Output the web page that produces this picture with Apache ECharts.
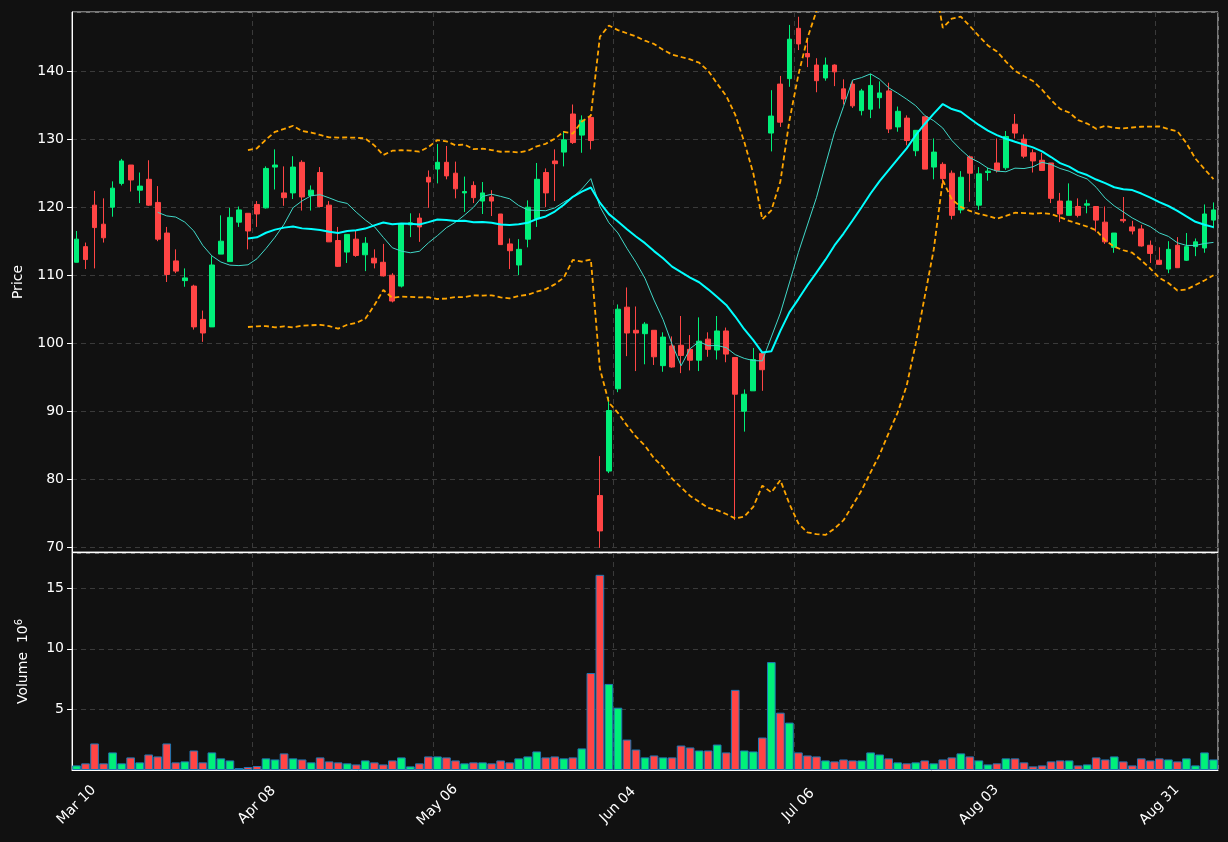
<!DOCTYPE html>
<html><head><meta charset="utf-8">
<script src="https://cdn.jsdelivr.net/npm/echarts@6/dist/echarts.min.js"></script>
<style>html,body{margin:0;padding:0;background:#111111;}#c{width:1228px;height:842px;}</style>
</head><body><div id="c"></div>
<script>
const tickLabels = ['Mar 10','Apr 08','May 06','Jun 04','Jul 06','Aug 03','Aug 31'];
const opens = [111.9,114.2,120.3,117.5,120.0,123.5,126.2,122.5,124.1,120.7,116.2,112.1,109.2,108.4,103.5,102.4,113.1,112.0,117.8,119.1,
120.4,119.9,125.9,122.1,122.1,126.6,121.7,125.1,120.3,115.1,113.4,115.3,113.0,112.5,111.9,110.0,108.4,117.4,118.4,124.4,
125.6,126.6,125.0,122.1,123.2,120.9,121.5,119.0,114.6,111.5,115.3,118.3,125.1,126.8,128.1,133.7,130.6,133.2,77.6,81.2,
93.3,105.3,101.9,101.4,101.9,96.7,99.6,99.7,99.1,97.5,100.6,99.0,101.8,97.9,90.0,93.0,98.5,130.9,138.1,138.9,
146.3,142.6,140.9,139.0,140.9,137.4,138.1,134.2,134.4,136.1,137.1,131.8,133.1,128.3,133.3,125.9,126.3,125.0,119.6,127.4,
120.3,125.1,126.5,125.8,132.2,130.0,128.0,126.9,126.5,120.9,118.8,120.1,120.3,120.1,117.8,114.1,118.2,117.1,116.8,114.4,
112.2,110.9,114.4,112.2,114.2,114.0,118.1];
const closes = [115.3,112.3,117.0,115.5,122.8,126.8,124.0,123.1,120.3,115.3,110.1,110.6,109.6,102.4,101.5,111.5,115.0,118.5,119.6,116.5,
119.0,125.7,126.2,121.4,125.9,121.5,122.5,120.1,114.9,111.3,116.0,112.9,114.7,111.8,109.9,106.2,117.6,117.7,117.1,123.7,
126.6,124.6,122.7,122.3,121.4,122.1,120.9,114.5,113.6,113.8,120.0,124.1,122.1,126.4,129.9,129.5,132.8,129.8,72.4,90.1,
105.0,101.5,101.5,102.8,98.0,100.9,96.5,98.2,97.5,100.3,99.1,101.8,98.4,92.5,92.5,97.6,96.1,133.4,132.5,144.7,
144.0,142.1,138.6,140.9,139.9,135.9,134.9,137.1,137.9,136.8,131.5,134.1,129.8,131.3,125.6,128.1,124.2,118.8,124.4,125.0,
124.9,125.3,125.4,130.4,130.9,127.5,126.8,125.4,121.3,119.0,120.9,118.8,120.5,118.1,114.9,116.2,118.0,116.5,114.3,113.2,
111.6,113.8,111.1,114.2,114.9,119.0,119.6];
const lows = [111.9,110.9,111.0,114.8,118.6,123.2,122.3,120.6,120.2,115.0,109.0,110.3,108.3,102.0,100.2,102.4,113.1,112.0,117.1,113.8,
117.1,119.8,122.6,120.2,121.2,119.5,119.5,120.0,114.9,111.2,111.8,112.7,110.6,111.0,109.8,106.0,108.2,115.6,114.9,119.9,
123.5,124.1,121.3,119.3,120.6,119.0,118.7,114.5,110.9,110.0,114.1,117.1,120.0,120.9,126.0,129.3,128.0,128.5,69.9,80.9,
92.8,98.1,95.9,96.9,96.8,95.8,96.4,95.6,96.0,95.9,98.0,97.6,97.2,74.0,87.0,93.0,93.0,128.2,131.8,137.7,
143.1,140.6,136.9,138.6,137.8,135.1,134.6,133.5,133.1,134.5,130.9,131.1,129.1,127.5,125.6,124.1,122.8,118.2,119.1,120.8,
119.6,123.9,125.1,125.5,130.1,127.2,125.1,125.4,120.6,117.8,118.8,118.5,119.1,116.4,114.6,113.3,117.7,116.0,114.2,111.8,
111.5,110.3,111.1,112.1,112.8,113.3,116.9];
const highs = [116.5,114.8,122.4,121.3,123.8,127.1,126.2,125.1,126.9,123.1,117.1,113.8,111.0,108.6,104.8,112.8,118.8,119.9,120.1,119.1,
120.9,126.0,128.5,126.0,127.5,126.9,123.2,125.9,120.9,117.1,116.0,116.6,115.6,113.8,114.6,110.3,117.6,119.1,119.1,125.4,
129.3,129.0,126.7,124.5,123.8,123.7,122.5,119.0,115.4,115.3,121.0,126.5,125.7,128.5,131.2,135.1,133.5,133.5,83.4,92.1,
105.7,108.2,105.4,103.1,101.9,101.6,101.0,104.0,101.2,103.8,101.6,104.0,102.3,97.9,93.2,99.3,98.5,137.2,139.3,146.8,
148.0,144.6,141.9,142.0,141.0,138.8,138.6,137.4,139.6,138.5,138.3,134.8,133.5,131.3,133.3,130.1,126.6,125.4,125.3,127.6,
125.9,125.8,130.1,131.2,133.7,130.7,128.5,128.0,126.5,122.1,123.5,121.3,121.1,120.1,120.1,116.2,121.5,118.0,117.4,115.1,
114.1,115.0,115.6,116.2,115.4,120.4,120.7];
const volumes = [0.38,0.55,2.19,0.55,1.45,0.55,1.04,0.63,1.28,1.12,2.19,0.63,0.71,1.61,0.63,1.45,0.96,0.79,0.16,0.25,
0.33,0.96,0.87,1.37,0.96,0.87,0.63,1.04,0.71,0.63,0.55,0.46,0.79,0.63,0.46,0.79,1.04,0.30,0.55,1.12,
1.12,1.04,0.79,0.55,0.63,0.63,0.55,0.79,0.63,0.96,1.12,1.53,1.04,1.12,0.96,1.04,1.78,8.0,16.1,7.1,
5.14,2.51,1.69,1.04,1.2,1.04,1.04,2.02,1.86,1.61,1.61,2.10,1.45,6.61,1.61,1.53,2.68,8.9,4.73,3.91,
1.45,1.2,1.12,0.79,0.71,0.87,0.79,0.79,1.45,1.28,0.96,0.63,0.55,0.63,0.79,0.55,0.87,1.04,1.37,1.12,
0.79,0.46,0.55,0.96,0.96,0.63,0.30,0.38,0.71,0.79,0.79,0.38,0.46,1.04,0.87,1.12,0.71,0.38,0.96,0.79,
0.96,0.87,0.71,0.96,0.38,1.45,0.87];

const UP = '#00f07a', DOWN = '#ff4545';
const n = closes.length;
const cats = closes.map((_, i) => i % 20 === 0 ? tickLabels[i / 20] : String(i));
const candle = closes.map((c, i) => [opens[i], c, lows[i], highs[i]]);
function ma(p) { return closes.map((_, i) => { if (i < p - 1) return '-'; let s = 0; for (let k = i - p + 1; k <= i; k++) s += closes[k]; return +(s / p).toFixed(3); }); }
const ma10 = ma(10), ma20 = ma(20);
const upper = [], lower = [];
for (let i = 0; i < n; i++) {
  if (i < 19) { upper.push('-'); lower.push('-'); continue; }
  let m = ma20[i], v = 0;
  for (let k = i - 19; k <= i; k++) v += (closes[k] - m) ** 2;
  const sd = Math.sqrt(v / 20);
  upper.push(+(m + 2 * sd).toFixed(3)); lower.push(+(m - 2 * sd).toFixed(3));
}
const volData = volumes.map((v, i) => ({ value: v, itemStyle: { color: closes[i] >= opens[i] ? UP : DOWN } }));

const txt = { color: '#ffffff', fontSize: 14, fontFamily: 'DejaVu Sans' };
const split = { show: true, lineStyle: { color: '#3a3a3a', type: [5, 4], width: 1 } };
const xCommon = {
  type: 'category', data: cats, boundaryGap: true,
  axisLine: { lineStyle: { color: '#ffffff' } },
  axisTick: { interval: (i) => i % 20 === 0, alignWithLabel: true, length: 5, lineStyle: { color: '#fff' } },
  splitLine: { show: true, interval: (i) => i % 20 === 0, lineStyle: { color: '#3a3a3a', type: [5, 4] } }
};
const chart = echarts.init(document.getElementById('c'));
chart.setOption({
  backgroundColor: '#111111',
  animation: false,
  grid: [
    { left: 72, right: 10, top: 12, height: 540, show: true, borderColor: '#e0e0e0', borderWidth: 1, backgroundColor: 'transparent' },
    { left: 72, right: 10, top: 553, height: 217, show: true, borderColor: '#e0e0e0', borderWidth: 1, backgroundColor: 'transparent' }
  ],
  xAxis: [
    Object.assign({}, xCommon, { gridIndex: 0, axisLabel: { show: false }, axisTick: { show: false } }),
    Object.assign({}, xCommon, { gridIndex: 1, axisLabel: Object.assign({}, txt, { rotate: 45, interval: (i) => i % 20 === 0, margin: 35, align: 'center', verticalAlign: 'middle' }) })
  ],
  yAxis: [
    { gridIndex: 0, type: 'value', min: 69.3, max: 148.7, splitNumber: 8, name: 'Price', nameLocation: 'middle', nameGap: 47, nameRotate: 90, nameTextStyle: txt,
      axisLine: { show: true, lineStyle: { color: '#fff' } }, axisTick: { show: true, length: 5, lineStyle: { color: '#fff' } },
      axisLabel: Object.assign({}, txt, { showMinLabel: false, showMaxLabel: false }), splitLine: split },
    { gridIndex: 1, type: 'value', min: 0, max: 17.9, interval: 5, name: 'Volume  10{sup|6}', nameLocation: 'middle', nameGap: 40, nameRotate: 90,
      nameTextStyle: Object.assign({}, txt, { rich: { sup: { color: '#fff', fontSize: 10, verticalAlign: 'top', padding: [0, 0, 8, 0] } } }),
      axisLine: { show: true, lineStyle: { color: '#fff' } }, axisTick: { show: true, length: 5, lineStyle: { color: '#fff' } },
      axisLabel: Object.assign({}, txt, { showMinLabel: false, showMaxLabel: false }), splitLine: split }
  ],
  series: [
    { type: 'candlestick', xAxisIndex: 0, yAxisIndex: 0, data: candle, barWidth: '58%',
      itemStyle: { color: UP, color0: DOWN, borderColor: UP, borderColor0: DOWN, borderWidth: 1 } },
    { type: 'line', data: ma10, xAxisIndex: 0, yAxisIndex: 0, symbol: 'none', lineStyle: { color: '#40d8c8', width: 1 } },
    { type: 'line', data: ma20, xAxisIndex: 0, yAxisIndex: 0, symbol: 'none', lineStyle: { color: '#00ffff', width: 2 } },
    { type: 'line', data: upper, xAxisIndex: 0, yAxisIndex: 0, symbol: 'none', lineStyle: { color: '#ffa500', width: 1.8, type: [5, 3] } },
    { type: 'line', data: lower, xAxisIndex: 0, yAxisIndex: 0, symbol: 'none', lineStyle: { color: '#ffa500', width: 1.8, type: [5, 3] } },
    { type: 'bar', xAxisIndex: 1, yAxisIndex: 1, data: volData, barWidth: '96%',
      itemStyle: { borderColor: '#1f77b4', borderWidth: 1 } }
  ]
});
</script></body></html>
